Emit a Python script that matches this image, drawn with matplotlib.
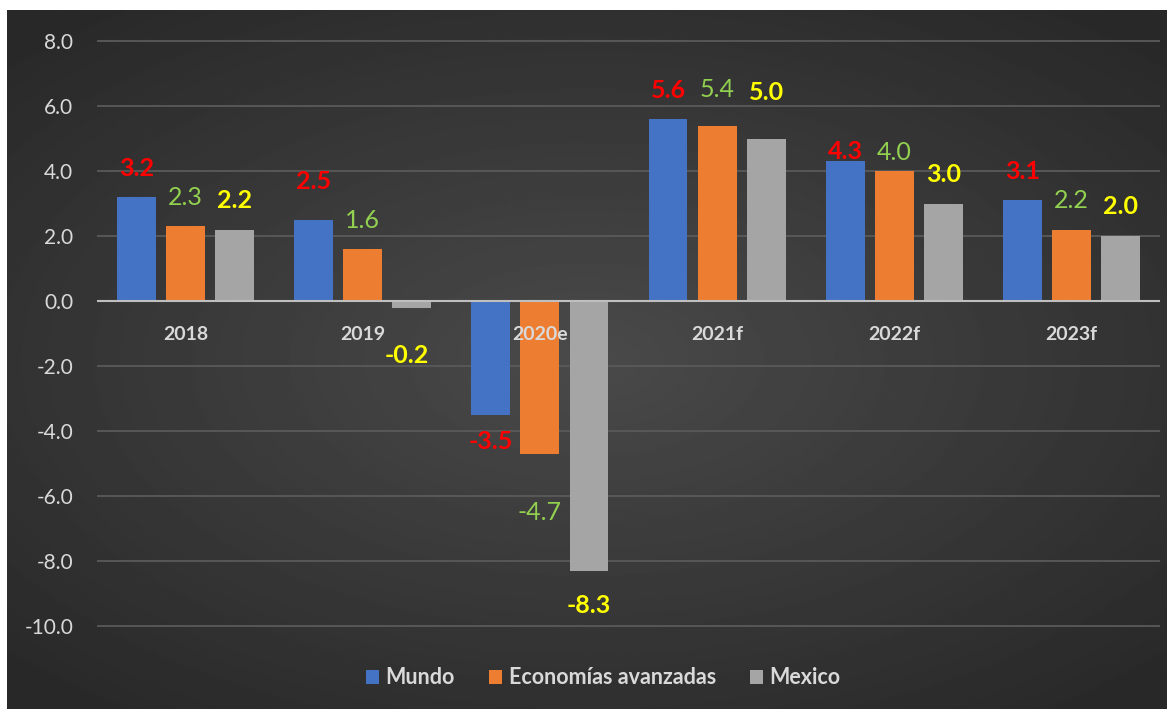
import numpy as np
import matplotlib.pyplot as plt
import matplotlib.transforms as mtransforms

categories = ['2018', '2019', '2020e', '2021f', '2022f', '2023f']
mundo = [3.2, 2.5, -3.5, 5.6, 4.3, 3.1]
avanzadas = [2.3, 1.6, -4.7, 5.4, 4.0, 2.2]
mexico = [2.2, -0.2, -8.3, 5.0, 3.0, 2.0]
series_names = ['Mundo', 'Economías avanzadas', 'Mexico']

plt.rcParams['font.family'] = ['Lato', 'DejaVu Sans']

bar_colors = ['#4472C4', '#ED7D31', '#A5A5A5']
label_colors = ['#FF0000', '#92D050', '#FFFF00']
label_bold = ['bold', 'normal', 'bold']

fig = plt.figure(figsize=(11.74, 7.12), dpi=100, facecolor='white')

# dark radial gradient background
bg = fig.add_axes([7 / 1174, 3 / 712, 1160 / 1174, 699 / 712])
yy, xx = np.mgrid[-1:1:300j, -1:1:500j]
r = np.sqrt((xx * 1.0) ** 2 + (yy * 1.1) ** 2)
shade = 0.29 - 0.13 * np.clip(r / 1.4, 0, 1)
bg.imshow(shade, cmap='gray', vmin=0, vmax=1, aspect='auto', extent=[0, 1, 0, 1])
bg.axis('off')

ax = fig.add_axes([97 / 1174, 73 / 712, 1063 / 1174, 611 / 712])
ax.patch.set_alpha(0)
ax.set_xlim(-0.5, 5.5)
ax.set_ylim(-10.4, 8.4)

x = np.arange(len(categories))
width = 0.22
step = 0.277
data = [mundo, avanzadas, mexico]

# per-label vertical offsets in pixels (layout tweaks as in the original)
overrides = {(0, 1): 38, (2, 3): 46, (1, 3): 36, (0, 4): 10, (1, 4): 18,
             (1, 2): -59, (2, 2): -35, (2, 1): -48}
x_shift = {(2, 1): -5}

for i, vals in enumerate(data):
    pos = x + (i - 1) * step
    ax.bar(pos, vals, width=width, color=bar_colors[i], zorder=3,
           label=series_names[i])
    for j, v in enumerate(vals):
        off = overrides.get((i, j), 29 if v >= 0 else -27)
        ax.annotate(f'{v:.1f}', (pos[j], v),
                    xytext=(x_shift.get((i, j), 0) * 0.72, off * 0.72),
                    textcoords='offset points', ha='center', va='center',
                    color=label_colors[i], fontsize=18,
                    fontweight=label_bold[i], zorder=5)

ax.set_yticks(np.arange(-10, 9, 2))
ax.set_yticklabels([f'{t:.1f}' for t in np.arange(-10, 9, 2)])
ax.yaxis.grid(True, color='#5a5a5a', linewidth=1.3, zorder=0)
ax.tick_params(axis='y', length=0, pad=17, labelsize=15, labelcolor='#d9d9d9')

# category labels drawn on top of the bars, just below the zero line
ax.set_xticks([])
offset = mtransforms.offset_copy(ax.transData, fig=fig, x=0, y=-33 * 0.72,
                                 units='points')
for xi, c in zip(x, categories):
    ax.text(xi, 0, c, transform=offset, ha='center', va='center',
            fontsize=14, fontweight='bold', color='#d9d9d9', zorder=6)

ax.axhline(0, color='#bfbfbf', linewidth=1.5, zorder=4)
for s in ['top', 'left', 'right', 'bottom']:
    ax.spines[s].set_visible(False)

leg = fig.legend(loc='center', bbox_to_anchor=(0.514, 1 - 678 / 712), ncol=3,
                 frameon=False, prop={'size': 15.5, 'weight': 'bold'},
                 handlelength=0.6, handleheight=0.6,
                 handletextpad=0.3, columnspacing=1.6)
for t in leg.get_texts():
    t.set_color('#d9d9d9')

fig.savefig('out.png', dpi=100, facecolor='white')
